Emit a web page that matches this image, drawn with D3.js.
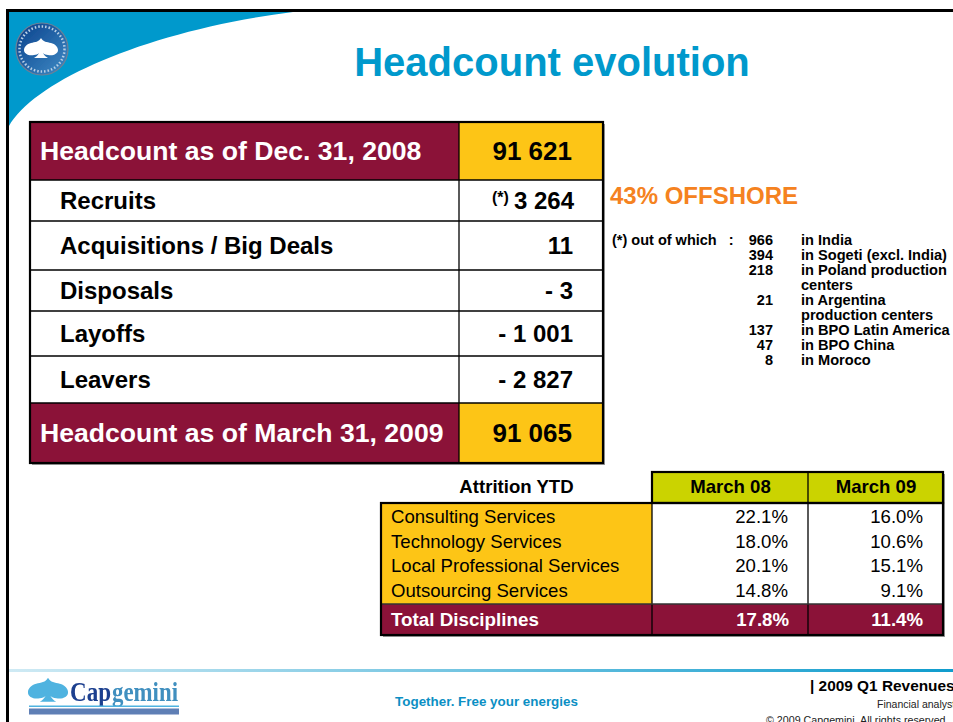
<!DOCTYPE html>
<html><head><meta charset="utf-8">
<script src="https://cdn.jsdelivr.net/npm/d3@7"></script>
<style>html,body{margin:0;padding:0;background:#fff;overflow:hidden}svg{display:block}text{font-family:"Liberation Sans",Arial,sans-serif;white-space:pre}</style>
</head><body><svg id="c" width="953" height="722"></svg>
<script>
const title = "Headcount evolution";
const headcountLabels = ["Headcount as of Dec. 31, 2008","Recruits","Acquisitions / Big Deals","Disposals","Layoffs","Leavers","Headcount as of March 31, 2009"];
const headcountValues = ["91 621","3 264","11","- 3","- 1 001","- 2 827","91 065"];
const offshoreTitle = "43% OFFSHORE";
const offshoreNumbers = ["966","394","218","","21","","137","47","8"];
const offshoreLabels = ["in India","in Sogeti (excl. India)","in Poland production","centers","in Argentina","production centers","in BPO Latin America","in BPO China","in Moroco"];
const attritionHeaders = ["March 08","March 09"];
const disciplines = ["Consulting Services","Technology Services","Local Professional Services","Outsourcing Services"];
const march08 = ["22.1%","18.0%","20.1%","14.8%"];
const march09 = ["16.0%","10.6%","15.1%","9.1%"];
const totalRow = ["Total Disciplines","17.8%","11.4%"];

const MAROON="#8b1238", GOLD="#fdc516", LIME="#cbd300", BLUE="#0099cc";
const svg=d3.select("#c");
const defs=svg.append("defs");
const fg=defs.append("linearGradient").attr("id","foot");
fg.append("stop").attr("offset","0").attr("stop-color","#cfeaf4");
fg.append("stop").attr("offset","1").attr("stop-color","#0f9ccd");
const lg=defs.append("linearGradient").attr("id","seal").attr("x1","0").attr("y1","0").attr("x2","1").attr("y2","1");
lg.append("stop").attr("offset","0").attr("stop-color","#0b3f8a");
lg.append("stop").attr("offset","1").attr("stop-color","#3f8cc6");
defs.append("filter").attr("id","soft").append("feGaussianBlur").attr("stdDeviation",0.6);

function txt(x,y,s,size,opt={}){return svg.append("text").attr("x",x).attr("y",y).text(s)
  .attr("font-size",size).attr("font-weight",opt.w||"bold").attr("fill",opt.c||"#000")
  .attr("text-anchor",opt.a||"start");}
function rect(x,y,w,h,f){return svg.append("rect").attr("x",x).attr("y",y).attr("width",w).attr("height",h).attr("fill",f);}
function hl(x1,x2,y,c,t){svg.append("line").attr("x1",x1).attr("x2",x2).attr("y1",y).attr("y2",y).attr("stroke",c).attr("stroke-width",t);}
function vl(x,y1,y2,c,t){svg.append("line").attr("x1",x).attr("x2",x).attr("y1",y1).attr("y2",y2).attr("stroke",c).attr("stroke-width",t);}

// slide frame & swoosh
svg.append("path").attr("d","M9,12 L293,12 C150,30 35,80 9,126 Z").attr("fill",BLUE);
hl(6,953,10.5,"#000",3);
vl(7.5,9,722,"#000",3);

// seal
const seal=svg.append("g").attr("filter","url(#soft)");
seal.append("circle").attr("cx",42).attr("cy",49).attr("r",26).attr("fill","url(#seal)").attr("stroke","#6f7f95").attr("stroke-width",1.2);
seal.append("circle").attr("cx",42).attr("cy",49).attr("r",22.5).attr("fill","none").attr("stroke","#b9d0e6").attr("stroke-width",2.5).attr("stroke-dasharray","1.5 2");
const spade="M0,-11 C2,-7 6,-7 10,-6 C14,-5 17,-2 17,1 C17,5 12,7 7,6 C5,6 3,5 2,4 C3,6 5,8 7,9 L-7,9 C-5,8 -3,6 -2,4 C-3,5 -5,6 -7,6 C-12,7 -17,5 -17,1 C-17,-2 -14,-5 -10,-6 C-6,-7 -2,-7 0,-11 Z";
seal.append("path").attr("d",spade).attr("transform","translate(41,49)").attr("fill","#fff");

// title
txt(552,76,title,40,{c:BLUE,a:"middle"});

// headcount table
const L=30,M=459,R=603;
const edges=[122,180,221,270,311,356,403,463];
const last=headcountLabels.length-1;
rect(L+2,edges[0]+2,R-L,edges[7]-edges[0],"#999");
rect(L,edges[0],R-L,edges[7]-edges[0],"#fff");
headcountLabels.forEach((lab,i)=>{
  const big=i===0||i===last, y0=edges[i], y1=edges[i+1], mid=(y0+y1)/2;
  if(big){rect(L,y0,M-L,y1-y0,MAROON);rect(M,y0,R-M,y1-y0,GOLD);}
  txt(big?40:60,mid+(big?8.5:8.5),lab,big?26.6:24,{c:big?"#fff":"#000"});
  txt(i===1?574:(big?572:573),mid+(big?8.5:8.5),headcountValues[i],big?26:24,{a:"end"});
});
edges.slice(1,-1).forEach(y=>hl(L,R,y,"#000",1.3));
vl(M,edges[0],edges[7],"#000",1.3);
svg.append("rect").attr("x",L).attr("y",edges[0]).attr("width",R-L).attr("height",edges[7]-edges[0]).attr("fill","none").attr("stroke","#000").attr("stroke-width",2.2);
txt(492,203,"(*)",16);

// offshore
txt(610,204,offshoreTitle,24,{c:"#f58220"});
txt(612,244.5,"(*) out of which   :",14.5);
const lineY=d3.scalePoint().domain(d3.range(offshoreLabels.length)).range([244.5,364.5]);
offshoreLabels.forEach((s,i)=>{
  txt(801,lineY(i),s,14.6);
  if(offshoreNumbers[i]) txt(773,lineY(i),offshoreNumbers[i],14.5,{a:"end"});
});

// attrition table
const TL=381,C1=652,C2=808,TR=943,H0=472,B0=503,B1=604,B2=635;
rect(TL+2,B0+2,TR-TL,B2-B0,"#999");
rect(C1+2,H0+2,TR-C1,B0-H0,"#999");
rect(TL,B0,C1-TL,B1-B0,GOLD);
rect(C1,B0,TR-C1,B1-B0,"#fff");
rect(TL,B1,TR-TL,B2-B1,MAROON);
rect(C1,H0,TR-C1,B0-H0,LIME);
vl(C1,H0,B2,"#000",1.3);vl(C2,H0,B2,"#000",1.3);
hl(TL,TR,B0,"#333",1.6);hl(TL,TR,B1,"#333",1.6);
[[TL,B0,TR-TL,B2-B0],[C1,H0,TR-C1,B0-H0]].forEach(r=>svg.append("rect").attr("x",r[0]).attr("y",r[1]).attr("width",r[2]).attr("height",r[3]).attr("fill","none").attr("stroke","#000").attr("stroke-width",2.2));
txt(516.5,493,"Attrition YTD",18.6,{a:"middle"});
const colX=d3.scaleOrdinal().domain(attritionHeaders).range([730.5,876]);
attritionHeaders.forEach(h=>txt(colX(h),493,h,18.6,{a:"middle"}));
const rowY=d3.scalePoint().domain(disciplines).range([523,597]);
disciplines.forEach((d,i)=>{
  txt(391,rowY(d),d,18.6,{w:"normal"});
  txt(788,rowY(d),march08[i],18.6,{w:"normal",a:"end"});
  txt(923,rowY(d),march09[i],18.6,{w:"normal",a:"end"});
});
txt(391,626,totalRow[0],18.8,{c:"#fff"});
txt(789,626,totalRow[1],18.6,{c:"#fff",a:"end"});
txt(923,626,totalRow[2],18.6,{c:"#fff",a:"end"});

// footer
rect(9,669,944,3,"url(#foot)");
const logo=svg.append("g").attr("filter","url(#soft)");
logo.append("path").attr("d",spade).attr("transform","translate(48,691) scale(1.18,1.2)").attr("fill","#4fb3e0");
function logoText(x,s,len,c){logo.append("text").attr("x",x).attr("y",701).text(s).attr("font-size",27).attr("font-weight","bold")
  .attr("fill",c).attr("style",'font-family:"Liberation Serif"').attr("textLength",len).attr("lengthAdjust","spacingAndGlyphs");}
logoText(70,"Cap",41,"#1d3f8f");
logoText(112,"gemini",66,"#3f8fbf");
logo.append("rect").attr("x",29).attr("y",705.5).attr("width",150).attr("height",1.5).attr("fill","#4fb3e0");
logo.append("rect").attr("x",29).attr("y",708.5).attr("width",150).attr("height",6).attr("fill","#5f7fb5");
txt(486.5,706,"Together. Free your energies",13.4,{c:"#0b8fc4",a:"middle"});
txt(810,691,"| 2009 Q1 Revenues",15.4);
txt(877,708,"Financial analysts",10.5,{w:"normal",c:"#222"});
txt(766,724,"© 2009 Capgemini. All rights reserved",10.7,{w:"normal",c:"#222"});
</script></body></html>
